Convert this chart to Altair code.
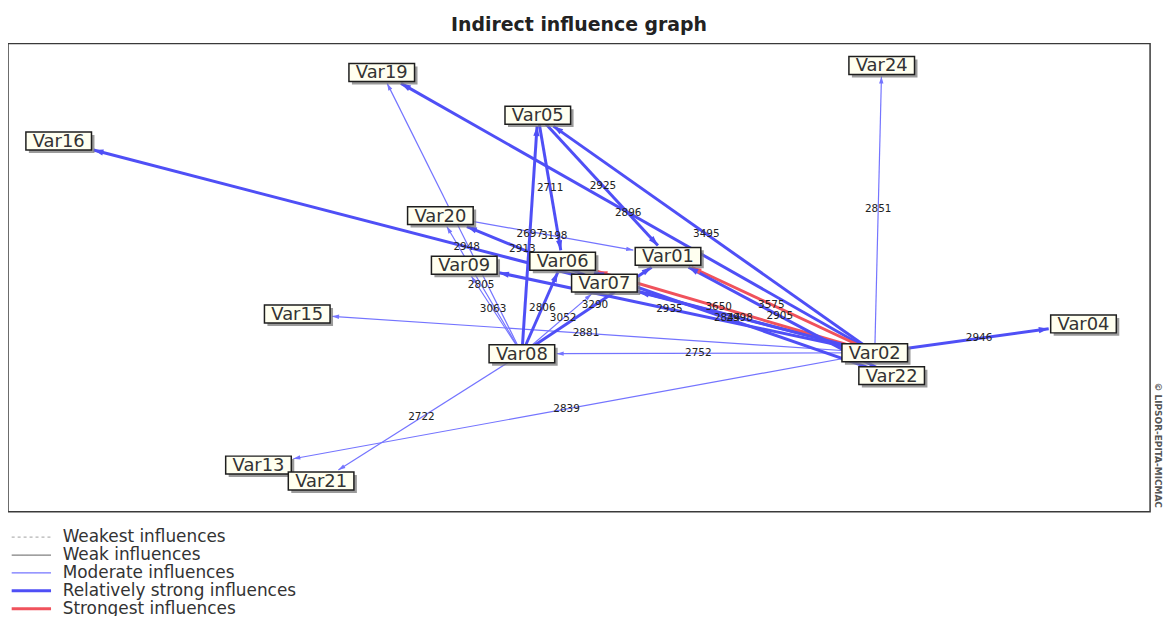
import math
import altair as alt
import pandas as pd

# ---------------- data ----------------
node_names = ["Var19", "Var24", "Var05", "Var16", "Var20", "Var01", "Var06", "Var09",
              "Var07", "Var15", "Var04", "Var02", "Var08", "Var22", "Var13", "Var21"]
node_x = [376, 879, 533, 51, 435, 664, 558, 459, 600, 291, 1082, 872, 517, 889, 252, 315]
node_y = [29, 22, 72, 98, 173, 214, 219, 223, 241, 272, 282, 311, 312, 334, 424, 440]

edge_source = ["Var02", "Var02", "Var02", "Var02", "Var02", "Var02", "Var02", "Var02",
               "Var02", "Var02", "Var02", "Var02", "Var22", "Var22", "Var08", "Var08",
               "Var08", "Var08", "Var08", "Var08", "Var08", "Var08", "Var05", "Var05",
               "Var20", "Var07"]
edge_target = ["Var04", "Var24", "Var13", "Var08", "Var15", "Var16", "Var19", "Var05",
               "Var01", "Var06", "Var09", "Var07", "Var06", "Var01", "Var05", "Var06",
               "Var19", "Var20", "Var09", "Var07", "Var01", "Var21", "Var06", "Var01",
               "Var01", "Var20"]
edge_level = ["S", "M", "M", "M", "M", "S", "S", "S",
              "X", "X", "S", "S", "S", "S", "S", "S",
              "M", "M", "M", "M", "S", "M", "S", "S",
              "M", "S"]
edge_value = [2946, 2851, 2839, 2752, 2881, 2948, 2896, 3495,
              3575, 3650, 2935, 2998, 2844, 2905, 2697, 2806,
              2768, 2805, 3063, 3052, 3290, 2722, 2711, 2925,
              3198, 2913]

level_codes = ["W0", "W1", "M", "S", "X"]
level_names = ["Weakest influences", "Weak influences", "Moderate influences",
               "Relatively strong influences", "Strongest influences"]
level_colors = ["#b4b4b4", "#808080", "#7474ff", "#4f4ff6", "#f0525c"]
level_widths = [1, 1.3, 1.2, 3, 3]

title_text = "Indirect influence graph"
copyright_text = "© LIPSOR-EPITA-MICMAC"

# ---------------- geometry derived from the data ----------------
W, H = 1149, 471
HALF_W, HALF_H = 33, 9
pos = {n: (x, y) for n, x, y in zip(node_names, node_x, node_y)}
rows = []
for s, t, lv, v in zip(edge_source, edge_target, edge_level, edge_value):
    sx, sy = pos[s]
    tx, ty = pos[t]
    dx, dy = tx - sx, ty - sy
    L = math.hypot(dx, dy)
    ux, uy = dx / L, dy / L
    k = min((HALF_W + 2) / abs(dx) if dx else 1e9, (HALF_H + 2) / abs(dy) if dy else 1e9)
    ex, ey = tx - dx * k, ty - dy * k
    li = level_codes.index(lv)
    w = level_widths[li]
    asize = 100 if w >= 2 else 50
    r = math.sqrt(asize) / 2
    rows.append(dict(sx=sx, sy=sy, ex=ex, ey=ey, ax=ex - ux * r, ay=ey - uy * r,
                     ang=math.degrees(math.atan2(dx, -dy)) % 360,
                     mx=(sx + tx) / 2, my=(sy + ty) / 2,
                     level=level_names[li], col=level_colors[li], w=w,
                     asize=asize, value=str(v)))
edges = pd.DataFrame(rows)
nodes = pd.DataFrame({"name": node_names, "x": node_x, "y": node_y})

xs = alt.Scale(domain=[0, W], nice=False, zero=False)
ys = alt.Scale(domain=[0, H], nice=False, zero=False, reverse=True)

FONT = "DejaVu Sans"
ARROW_PATH = "M0,-1L0.62,1L-0.62,1Z"

legend = alt.Legend(
    title=None, orient="none", legendX=15, legendY=488, padding=0,
    labelFont=FONT, labelFontSize=17, labelColor="#333333", labelLimit=400,
    labelOffset=23, rowPadding=0, symbolSize=324, symbolType="M-2.2,0H2.2",
    symbolStrokeWidth={"expr": "datum.value == 'Relatively strong influences' || datum.value == 'Strongest influences' ? 3 : 1.3"},
    symbolDash={"expr": "datum.value == 'Weakest influences' ? [3, 3] : [1, 0]"},
)

rules = alt.Chart(edges).mark_rule().encode(
    x=alt.X("sx:Q", scale=xs, axis=None),
    y=alt.Y("sy:Q", scale=ys, axis=None),
    x2="ex:Q",
    y2="ey:Q",
    color=alt.Color("level:N", scale=alt.Scale(domain=level_names, range=level_colors), legend=legend),
    strokeWidth=alt.StrokeWidth("w:Q", scale=None),
)

arrows = alt.Chart(edges).mark_point(shape=ARROW_PATH, filled=True, opacity=1, strokeWidth=0).encode(
    x=alt.X("ax:Q", scale=xs, axis=None),
    y=alt.Y("ay:Q", scale=ys, axis=None),
    angle=alt.Angle("ang:Q", scale=None),
    size=alt.Size("asize:Q", scale=None),
    color=alt.Color("col:N", scale=None),
)

edge_labels = alt.Chart(edges).mark_text(font=FONT, fontSize=10.5, color="#222222").encode(
    x=alt.X("mx:Q", scale=xs, axis=None),
    y=alt.Y("my:Q", scale=ys, axis=None),
    text="value:N",
)

box_base = alt.Chart(nodes).transform_calculate(
    x1=f"datum.x - {HALF_W}", x2=f"datum.x + {HALF_W}",
    y1=f"datum.y - {HALF_H}", y2=f"datum.y + {HALF_H}",
    sx1=f"datum.x - {HALF_W} + 3", sx2=f"datum.x + {HALF_W} + 3",
    sy1=f"datum.y - {HALF_H} + 3", sy2=f"datum.y + {HALF_H} + 3",
)

shadows = box_base.mark_rect(color="#7a7a7a", opacity=0.75).encode(
    x=alt.X("sx1:Q", scale=xs, axis=None), x2="sx2:Q",
    y=alt.Y("sy1:Q", scale=ys, axis=None), y2="sy2:Q",
)

boxes = box_base.mark_rect(fill="#fffff0", stroke="#1e1e1e", strokeWidth=1.5).encode(
    x=alt.X("x1:Q", scale=xs, axis=None), x2="x2:Q",
    y=alt.Y("y1:Q", scale=ys, axis=None), y2="y2:Q",
)

node_text = alt.Chart(nodes).mark_text(font=FONT, fontSize=18, color="#333333", baseline="middle", dy=1).encode(
    x=alt.X("x:Q", scale=xs, axis=None),
    y=alt.Y("y:Q", scale=ys, axis=None),
    text="name:N",
)

copyright_mark = alt.Chart(pd.DataFrame({"t": [copyright_text]})).mark_text(
    angle=90, font=FONT, fontSize=9, fontWeight="bold", color="#555555",
    align="center", baseline="middle",
).encode(x=alt.value(W + 8), y=alt.value(404), text="t:N")

chart = alt.layer(
    rules, arrows, edge_labels, shadows, boxes, node_text, copyright_mark
).resolve_scale(color="independent").properties(
    width=W, height=H,
    autosize="none",
    padding={"left": 0, "top": 34, "right": 14, "bottom": 103},
    title=alt.TitleParams(title_text, font=FONT, fontSize=19, fontWeight="bold",
                          color="#222222", anchor="middle", offset=10, dy=1),
).configure_view(stroke="#3a3a3a", strokeWidth=1.5)

chart.save("out.html", embed_options={"renderer": "svg", "actions": False})
